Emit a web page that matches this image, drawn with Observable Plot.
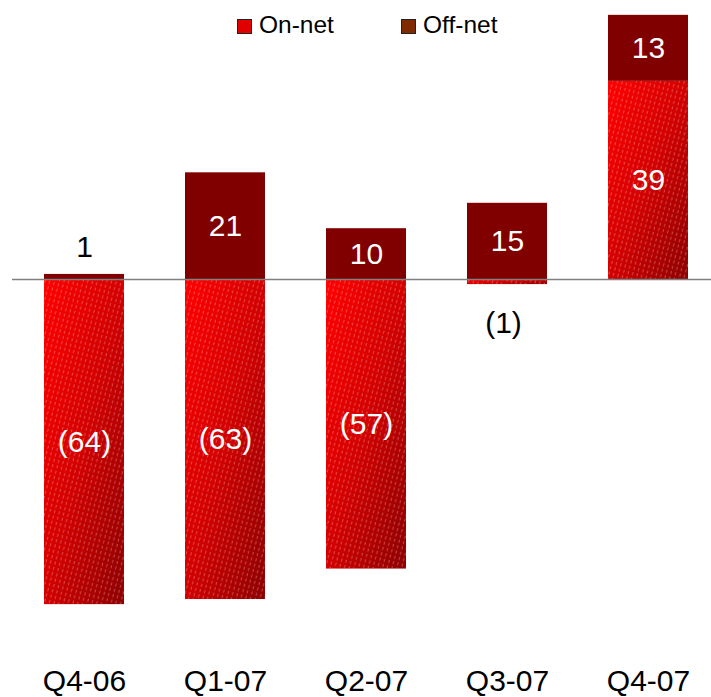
<!DOCTYPE html>
<html>
<head>
<meta charset="utf-8">
<script src="https://cdn.jsdelivr.net/npm/d3@7"></script>
<script src="https://cdn.jsdelivr.net/npm/@observablehq/plot@0.6"></script>
<style>
  html, body { margin: 0; padding: 0; background: #fff; }
  #wrap { position: relative; width: 711px; height: 697px; font-family: "Liberation Sans", Arial, sans-serif; }
  #legend { position: absolute; top: 0; left: 0; width: 711px; height: 50px; font-size: 24.5px; color: #000; }
  .sw { position: absolute; top: 19px; width: 13px; height: 13px; border: 1px solid #222; }
  .lt { position: absolute; top: 12px; line-height: 26px; }
</style>
</head>
<body>
<div id="wrap">
  <div id="chart"></div>
  <div id="legend"></div>
</div>
<script>
const quarters = ["Q4-06", "Q1-07", "Q2-07", "Q3-07", "Q4-07"];
const onNet = [-64, -63, -57, -1, 39];
const offNet = [1, 21, 10, 15, 13];
const seriesNames = ["On-net", "Off-net"];
const barColors = ["url(#onGrad)", "#800000"];
const legendColors = ["#e00000", "#7f2a00"];

// stacked segments (derived from the arrays)
const rows = [];
quarters.forEach((q, i) => {
  const on = onNet[i], off = offNet[i];
  const onY1 = Math.min(0, on), onY2 = Math.max(0, on);
  rows.push({q, s: seriesNames[0], v: on, y1: onY1, y2: onY2, fill: barColors[0]});
  const base = on > 0 ? on : 0;
  const offY1 = off >= 0 ? base : Math.min(0, on) + off;
  const offY2 = off >= 0 ? base + off : Math.min(0, on);
  rows.push({q, s: seriesNames[1], v: off, y1: offY1, y2: offY2, fill: barColors[1]});
});
rows.forEach(r => { r.mid = (r.y1 + r.y2) / 2; r.label = r.v < 0 ? `(${-r.v})` : `${r.v}`; });
const inside = rows.filter(r => Math.abs(r.v) >= 5);
const outsidePos = rows.filter(r => Math.abs(r.v) < 5 && r.v >= 0);
const outsideNeg = rows.filter(r => Math.abs(r.v) < 5 && r.v < 0);

const chart = Plot.plot({
  width: 711,
  height: 697,
  marginLeft: 12,
  marginRight: 0,
  marginTop: 0,
  marginBottom: 28,
  style: {fontFamily: "'Liberation Sans', Arial, sans-serif", fontSize: "30px", background: "#fff", overflow: "visible"},
  x: {domain: quarters, range: [42, 689], paddingInner: 0.436, paddingOuter: 0, label: null},
  y: {domain: [-70, 55], range: [634.6, -0.4], axis: null},
  color: {type: "identity"},
  marks: [
    Plot.rectY(rows, {x: "q", y1: "y1", y2: "y2", fill: "fill"}),
    Plot.rectY(rows.filter(r => r.s === seriesNames[0]), {x: "q", y1: "y1", y2: "y2", fill: () => "url(#hatch)"}),
    Plot.ruleY([0], {stroke: "#808080", strokeWidth: 1.6}),
    Plot.text(inside, {x: "q", y: "mid", text: "label", fill: "#fff"}),
    Plot.text(outsidePos, {x: "q", y: "y2", text: "label", fill: "#000", dy: -27}),
    Plot.text(outsideNeg, {x: "q", y: "y1", text: "label", fill: "#000", dy: 39, dx: -4}),
    Plot.axisX({tickSize: 0, tickPadding: 0, fill: "#000"})
  ]
});

// gradient + hatch definitions
const ns = "http://www.w3.org/2000/svg";
const defs = document.createElementNS(ns, "defs");
defs.innerHTML = `
  <linearGradient id="onGrad" x1="0" y1="0" x2="1" y2="1">
    <stop offset="0" stop-color="#ff0000"/>
    <stop offset="0.5" stop-color="#d20000"/>
    <stop offset="1" stop-color="#8c0000"/>
  </linearGradient>
  <pattern id="hatch" patternUnits="userSpaceOnUse" width="4.6" height="5.5" patternTransform="rotate(15)">
    <line x1="1.2" y1="0" x2="1.2" y2="3.2" stroke="rgba(255,190,190,0.4)" stroke-width="1"/>
  </pattern>`;
chart.insertBefore(defs, chart.firstChild);
document.getElementById("chart").appendChild(chart);

// legend
const legend = document.getElementById("legend");
const lx = [[237, 259], [401, 423]];
seriesNames.forEach((name, i) => {
  const sw = document.createElement("div");
  sw.className = "sw";
  sw.style.left = lx[i][0] + "px";
  sw.style.background = legendColors[i];
  legend.appendChild(sw);
  const t = document.createElement("div");
  t.className = "lt";
  t.style.left = lx[i][1] + "px";
  t.textContent = name;
  legend.appendChild(t);
});
</script>
</body>
</html>
